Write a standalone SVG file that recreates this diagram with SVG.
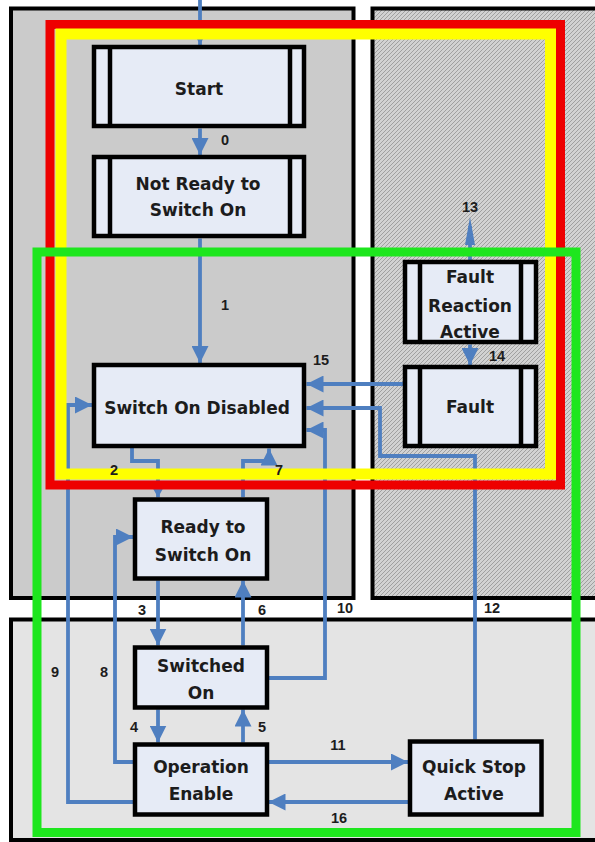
<svg xmlns="http://www.w3.org/2000/svg" width="595" height="842" viewBox="0 0 595 842">
<defs>
<pattern id="hatch" patternUnits="userSpaceOnUse" width="4" height="4">
<rect width="4" height="4" fill="#d2d2d2"/>
<path d="M-1,1 L1,-1 M0,4 L4,0 M3,5 L5,3" stroke="#a0a0a0" stroke-width="1"/>
</pattern>
<marker id="ah" markerUnits="userSpaceOnUse" markerWidth="18" markerHeight="17" refX="17" refY="8.5" orient="auto">
<path d="M0,0 L17,8.5 L0,17 z" fill="#4f7fc0"/>
</marker>
<marker id="ahs" markerUnits="userSpaceOnUse" markerWidth="10" markerHeight="10" refX="9" refY="5" orient="auto">
<path d="M0,0 L9,5 L0,10 z" fill="#4f7fc0"/>
</marker>
</defs>
<style>
.panel{stroke:#000;stroke-width:4}
.node rect.b{fill:#e6ebf6;stroke:#000;stroke-width:4.5}
.node line{stroke:#000;stroke-width:4.5}
.node text{font-family:"DejaVu Sans",sans-serif;font-weight:bold;font-size:17px;fill:#1c1c1c;text-anchor:middle}
.c{fill:none;stroke:#4f7fc0;stroke-width:3.8;marker-end:url(#ah)}
.cs{fill:none;stroke:#4f7fc0;stroke-width:3.8;marker-end:url(#ahs)}
.lbl{font-family:"Liberation Sans",Arial,sans-serif;font-weight:bold;font-size:14.5px;fill:#1c1c1c;text-anchor:middle}
.frame{fill:none}
</style>
<rect width="595" height="842" fill="#fff"/>
<g id="panels">
<rect class="panel" x="11" y="8.5" width="342.5" height="589.5" fill="#cbcbcb"/>
<rect class="panel" x="372.5" y="8.5" width="240" height="589.5" fill="url(#hatch)"/>
<rect class="panel" x="11" y="619.5" width="600" height="220.5" fill="#e4e4e4"/>
</g>
<g id="connectors">
<path class="c" d="M200,0 L200,45"/>
<path class="c" d="M200,128.5 L200,155"/>
<path class="c" d="M200,238.5 L200,363"/>
<path class="cs" d="M132,448 L132,461 L158,461 L158,497.5"/>
<path class="c" d="M243,497 L243,461 L269,461 L269,448.5"/>
<path class="c" d="M158,580.5 L158,645.5"/>
<path class="c" d="M243,645.5 L243,580.5"/>
<path class="c" d="M158,709.5 L158,742.5"/>
<path class="c" d="M243,742.5 L243,709.5"/>
<path class="c" d="M133,762 L115,762 L115,537 L133,537"/>
<path class="c" d="M133,802 L68,802 L68,405 L92,405"/>
<path class="c" d="M268.5,678 L325,678 L325,430 L306.5,430"/>
<path class="c" d="M268.5,762 L408,762"/>
<path class="c" d="M408,802 L268.5,802"/>
<path class="c" d="M475,739.5 L475,456 L380,456 L380,408 L306.5,408"/>
<path class="c" d="M403,384 L306.5,384"/>
<path class="c" d="M470,344.5 L470,365"/>
<path fill="none" stroke="#4f7fc0" stroke-width="3.8" d="M470,226 L470,260"/>
<path fill="#4f7fc0" d="M470,217 L475,245 L465,245 z"/>
</g>
<g id="frames">
<rect class="frame" x="50" y="24.5" width="510.5" height="460.5" stroke="#ee0000" stroke-width="9"/>
<rect class="frame" x="61" y="34" width="489.5" height="440" stroke="#ffff00" stroke-width="11"/>
<rect class="frame" x="37" y="252" width="539" height="580.5" stroke="#1ee61e" stroke-width="9"/>
</g>
<g id="connector-labels">
<text class="lbl" x="225" y="145">0</text>
<text class="lbl" x="225" y="310">1</text>
<text class="lbl" x="114" y="475">2</text>
<text class="lbl" x="279" y="475">7</text>
<text class="lbl" x="142" y="615">3</text>
<text class="lbl" x="262" y="615">6</text>
<text class="lbl" x="134" y="732">4</text>
<text class="lbl" x="262" y="732">5</text>
<text class="lbl" x="104" y="677">8</text>
<text class="lbl" x="55" y="677">9</text>
<text class="lbl" x="345" y="613">10</text>
<text class="lbl" x="338" y="750">11</text>
<text class="lbl" x="492" y="613">12</text>
<text class="lbl" x="470" y="212">13</text>
<text class="lbl" x="497" y="361">14</text>
<text class="lbl" x="321" y="365">15</text>
<text class="lbl" x="339" y="823">16</text>
</g>
<g id="start" class="node">
<rect class="b" x="94" y="47" width="210" height="79"/>
<line x1="110" y1="47" x2="110" y2="126"/><line x1="290" y1="47" x2="290" y2="126"/>
<text x="199" y="95">Start</text>
</g>
<g id="not-ready" class="node">
<rect class="b" x="94" y="157" width="210" height="79"/>
<line x1="110" y1="157" x2="110" y2="236"/><line x1="290" y1="157" x2="290" y2="236"/>
<text x="198" y="190">Not Ready to</text>
<text x="198" y="216">Switch On</text>
</g>
<g id="switch-on-disabled" class="node">
<rect class="b" x="94" y="365" width="210" height="81"/>
<text x="197" y="414">Switch On Disabled</text>
</g>
<g id="fault-reaction" class="node">
<rect class="b" x="405" y="262" width="131" height="80"/>
<line x1="420" y1="262" x2="420" y2="342"/><line x1="521" y1="262" x2="521" y2="342"/>
<text x="470" y="283">Fault</text>
<text x="470" y="312">Reaction</text>
<text x="470" y="338">Active</text>
</g>
<g id="fault" class="node">
<rect class="b" x="405" y="367" width="131" height="79"/>
<line x1="420" y1="367" x2="420" y2="446"/><line x1="521" y1="367" x2="521" y2="446"/>
<text x="470" y="413">Fault</text>
</g>
<g id="ready" class="node">
<rect class="b" x="135" y="499.5" width="132" height="79"/>
<text x="203" y="533">Ready to</text>
<text x="203" y="561">Switch On</text>
</g>
<g id="switched-on" class="node">
<rect class="b" x="135" y="647.5" width="132" height="60"/>
<text x="201" y="672">Switched</text>
<text x="201" y="699">On</text>
</g>
<g id="operation-enable" class="node">
<rect class="b" x="135" y="744.5" width="132" height="70"/>
<text x="201" y="773">Operation</text>
<text x="201" y="800">Enable</text>
</g>
<g id="quick-stop" class="node">
<rect class="b" x="410" y="741.5" width="131.5" height="73"/>
<text x="474" y="773">Quick Stop</text>
<text x="474" y="800">Active</text>
</g>
</svg>
